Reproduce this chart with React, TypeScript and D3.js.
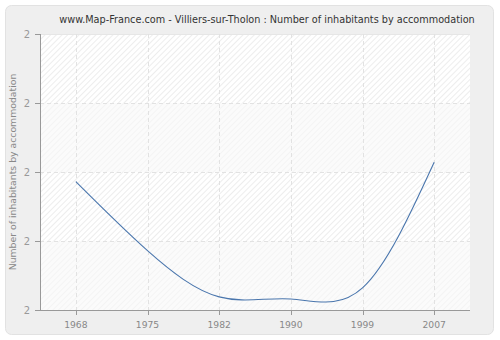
import React from "react";
import * as d3 from "d3";

const years = ["1968", "1975", "1982", "1990", "1999", "2007"];
const values = [2.093, 2.043, 2.0095, 2.008, 2.016, 2.107];
const yTicks = [2.0, 2.05, 2.1, 2.15, 2.2];
const title = "www.Map-France.com - Villiers-sur-Tholon : Number of inhabitants by accommodation";
const yLabel = "Number of inhabitants by accommodation";

const W = 500, H = 340;
const L = 40, R = 470, T = 34, B = 310;

export default function App() {
  const x = d3.scalePoint<string>().domain(years).range([L, R]).padding(0.5);
  const y = d3.scaleLinear().domain([2.0, 2.2]).range([B, T]);
  const line = d3
    .line<number>()
    .x((_, i) => x(years[i]) as number)
    .y((d) => y(d))
    .curve(d3.curveNatural);
  const fmt = (v: number) => d3.format(".0f")(v);
  const bands = yTicks.slice(0, -1).map((v, i) => ({ y0: y(yTicks[i + 1]), y1: y(v), hatched: (yTicks.length - 2 - i) % 2 === 0 }));

  return (
    <svg width={W} height={H} style={{ position: "absolute", left: 0, top: 0 }} fontFamily="'DejaVu Sans', Verdana, sans-serif">
      <defs>
        <pattern id="hatchA" patternUnits="userSpaceOnUse" width="4" height="4" patternTransform="rotate(45)">
          <rect width="4" height="4" fill="#ffffff" />
          <line x1="0" y1="0" x2="0" y2="4" stroke="#e2e2e2" strokeWidth="1.2" />
        </pattern>
        <pattern id="hatchB" patternUnits="userSpaceOnUse" width="4" height="4" patternTransform="rotate(45)">
          <rect width="4" height="4" fill="#fbfbfb" />
          <line x1="0" y1="0" x2="0" y2="4" stroke="#f0f0f0" strokeWidth="1.2" />
        </pattern>
      </defs>
      <rect x={0} y={0} width={W} height={H} fill="#ffffff" />
      <rect x={5.5} y={5.5} width={488} height={329} rx={6} fill="#efefef" stroke="#e2e2e2" />
      <text x={267} y={23} textAnchor="middle" fontSize={9.7} fill="#333">{title}</text>
      {bands.map((b, i) => (
        <rect key={i} x={L} y={b.y0} width={R - L} height={b.y1 - b.y0} fill={b.hatched ? "url(#hatchA)" : "url(#hatchB)"} />
      ))}
      {yTicks.slice(1, -1).map((v) => (
        <line key={v} x1={L} x2={R} y1={Math.round(y(v)) + 0.5} y2={Math.round(y(v)) + 0.5} stroke="#e2e2e2" strokeDasharray="4,3" />
      ))}
      <line x1={L} x2={R} y1={T + 0.5} y2={T + 0.5} stroke="#e6e6e6" />
      {years.map((yr) => (
        <line key={yr} x1={Math.round(x(yr) as number) + 0.5} x2={Math.round(x(yr) as number) + 0.5} y1={T} y2={B} stroke="#e2e2e2" strokeDasharray="4,3" />
      ))}
      <path d={line(values) || ""} fill="none" stroke="#4a76ad" strokeWidth={1.1} />
      <line x1={L + 0.5} x2={L + 0.5} y1={T} y2={B} stroke="#999" />
      <line x1={L} x2={R} y1={B + 0.5} y2={B + 0.5} stroke="#999" />
      {yTicks.map((v) => (
        <g key={v}>
          <line x1={L - 5} x2={L} y1={Math.round(y(v)) + 0.5} y2={Math.round(y(v)) + 0.5} stroke="#999" />
          <text x={L - 10} y={y(v) + 3.5} textAnchor="end" fontSize={10} fill="#999">{fmt(v)}</text>
        </g>
      ))}
      {years.map((yr) => (
        <g key={yr}>
          <line x1={Math.round(x(yr) as number) + 0.5} x2={Math.round(x(yr) as number) + 0.5} y1={B} y2={B + 5} stroke="#999" />
          <text x={x(yr) as number} y={B + 18} textAnchor="middle" fontSize={9.2} fill="#888">{yr}</text>
        </g>
      ))}
      <text transform={`translate(16,172) rotate(-90)`} textAnchor="middle" fontSize={9.3} fill="#888">{yLabel}</text>
    </svg>
  );
}
